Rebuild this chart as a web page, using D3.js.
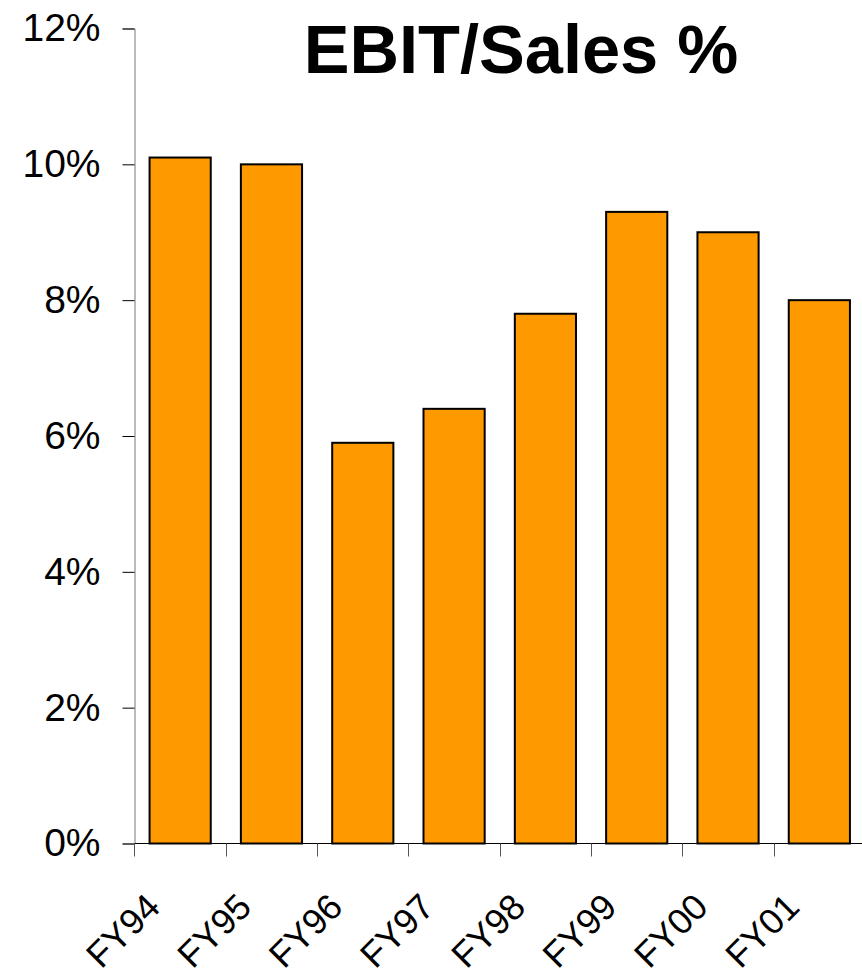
<!DOCTYPE html>
<html>
<head>
<meta charset="utf-8">
<script src="https://cdn.jsdelivr.net/npm/d3@7"></script>
<style>
  html, body { margin: 0; padding: 0; background: #fff; }
  svg { display: block; }
  text { font-family: "Liberation Sans", Arial, sans-serif; }
</style>
</head>
<body>
<svg id="chart" width="862" height="975"></svg>
<script>
// EBIT as a share of sales, by fiscal year
const years = ["FY94", "FY95", "FY96", "FY97", "FY98", "FY99", "FY00", "FY01"];
const ebitPct = [10.1, 10.0, 5.9, 6.4, 7.8, 9.3, 9.0, 8.0];
const yTicks = [0, 2, 4, 6, 8, 10, 12];
const title = "EBIT/Sales %";

const svg = d3.select("#chart");

const x = d3.scaleBand()
  .domain(years)
  .range([134.5, 865])
  .paddingInner(0.33)
  .paddingOuter(0.165);

const y = d3.scaleLinear()
  .domain([0, 12])
  .range([843.5, 28.5]);

// bars
svg.append("g")
  .selectAll("rect")
  .data(years)
  .join("rect")
  .attr("x", d => x(d))
  .attr("y", (d, i) => y(ebitPct[i]))
  .attr("width", x.bandwidth())
  .attr("height", (d, i) => y(0) - y(ebitPct[i]))
  .attr("fill", "#ff9900")
  .attr("stroke", "#000")
  .attr("stroke-width", 2);

// y axis
const yAxis = svg.append("g")
  .attr("transform", "translate(134.5,0)")
  .call(d3.axisLeft(y).tickValues(yTicks).tickFormat(d => d + "%").tickSize(12).tickPadding(22));
yAxis.select(".domain").attr("stroke", "#777");
yAxis.selectAll(".tick line").attr("stroke", "#000");
yAxis.selectAll(".tick text")
  .attr("font-size", 39)
  .attr("fill", "#000")
  .attr("font-family", "Liberation Sans, Arial, sans-serif");

// x axis with ticks on the band boundaries
const bounds = years.map(d => x(d) - x.step() * x.paddingInner() / 2);
const xAxisG = svg.append("g");
xAxisG.append("line")
  .attr("x1", 134.5).attr("x2", 866)
  .attr("y1", y(0)).attr("y2", y(0))
  .attr("stroke", "#000").attr("stroke-width", 1);
xAxisG.selectAll("line.tk")
  .data(bounds)
  .join("line")
  .attr("class", "tk")
  .attr("x1", d => Math.round(d) + 0.5).attr("x2", d => Math.round(d) + 0.5)
  .attr("y1", y(0)).attr("y2", y(0) + 13)
  .attr("stroke", "#555");

// rotated category labels
xAxisG.selectAll("text")
  .data(years)
  .join("text")
  .attr("transform", d => `translate(${x(d) + x.bandwidth() / 2 - 18},${909}) rotate(-45)`)
  .attr("text-anchor", "end")
  .attr("font-size", 36)
  .attr("fill", "#000")
  .text(d => d);

// title
svg.append("text")
  .attr("x", 521)
  .attr("y", 73)
  .attr("text-anchor", "middle")
  .attr("font-size", 68.6)
  .attr("font-weight", "bold")
  .attr("fill", "#000")
  .text(title);
</script>
</body>
</html>
